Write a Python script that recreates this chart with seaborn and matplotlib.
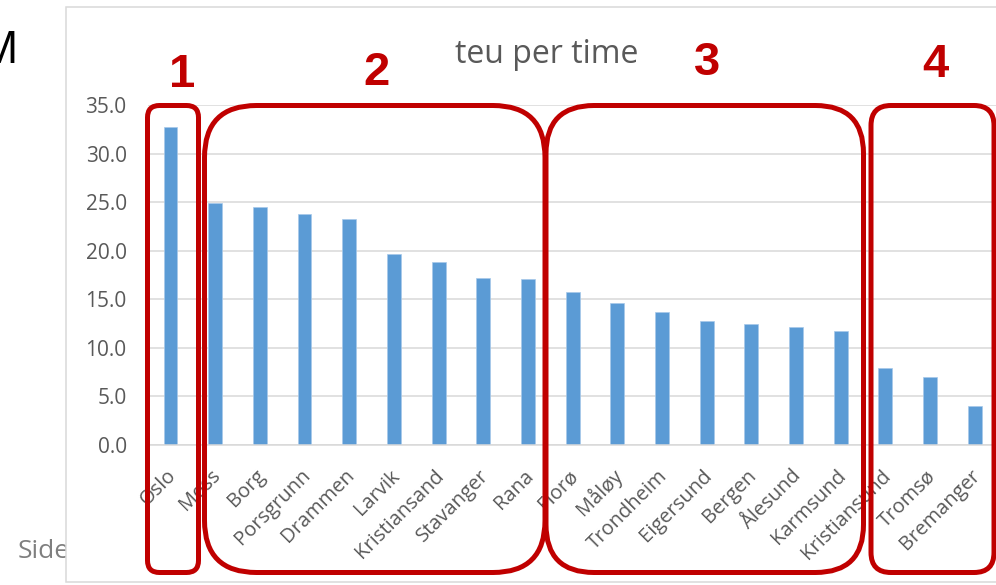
import matplotlib
matplotlib.use("Agg")
import matplotlib.pyplot as plt
import pandas as pd
import seaborn as sns
from matplotlib.patches import FancyBboxPatch, Rectangle
from matplotlib.transforms import Affine2D, ScaledTranslation

# ---- data -------------------------------------------------------------
ports = ["Oslo", "Moss", "Borg", "Porsgrunn", "Drammen", "Larvik",
         "Kristiansand", "Stavanger", "Rana", "Florø", "Måløy", "Trondheim",
         "Eigersund", "Bergen", "Ålesund", "Karmsund", "Kristiansund",
         "Tromsø", "Bremanger"]
teu_per_hour = [32.7, 24.9, 24.5, 23.8, 23.3, 19.6, 18.8, 17.2, 17.1,
                15.7, 14.6, 13.7, 12.7, 12.4, 12.1, 11.7, 7.9, 7.0, 4.0]
y_ticks = [0, 5, 10, 15, 20, 25, 30, 35]
chart_title = "teu per time"
group_numbers = ["1", "2", "3", "4"]

# ---- figure -----------------------------------------------------------
W, H, DPI = 996, 585, 100
sns.set_theme(style="white")
plt.rcParams["font.family"] = ["Open Sans", "DejaVu Sans"]

fig = plt.figure(figsize=(W / DPI, H / DPI), dpi=DPI)
fig.patch.set_facecolor("white")

# pixel coordinates, origin top-left, y downwards
pix = Affine2D().scale(1, -1).translate(0, H).scale(1 / DPI) + fig.dpi_scale_trans

# slide text partly hidden behind the chart
fig.text(17, 63, "M", transform=pix, ha="right", va="baseline",
         fontsize=33, color="black", family=["Liberation Sans"], zorder=0.5)
fig.text(18, 558.3, "Side", transform=pix, ha="left", va="baseline",
         fontsize=19, color="#7F7F7F", zorder=0.5)

# chart frame
fig.patches.append(Rectangle((66, 7), 940, 575, transform=pix,
                             facecolor="white", edgecolor="#D9D9D9",
                             linewidth=1.1, zorder=1))

ax = fig.add_axes([148.2 / W, (H - 444.7) / H, 848.8 / W, 339.7 / H])
ax.set_zorder(2)
ax.patch.set_alpha(0)

df = pd.DataFrame({"havn": ports, "teu": teu_per_hour})
sns.barplot(data=df, x="havn", y="teu", color="#5B9BD5", saturation=1,
            width=0.31, edgecolor="#A7C9EA", linewidth=0.5, ax=ax)

ax.set_xlim(-0.5, len(ports) - 0.5)
ax.set_ylim(0, 35)
ax.set_yticks(y_ticks)
ax.set_yticklabels([f"{v:.1f}" for v in y_ticks])
ax.set_xlabel("")
ax.set_ylabel("")
ax.yaxis.grid(True, color="#D9D9D9", linewidth=1.1)
ax.set_axisbelow(True)
for side in ("top", "left", "right"):
    ax.spines[side].set_visible(False)
ax.spines["bottom"].set_color("#D9D9D9")
ax.spines["bottom"].set_linewidth(1.1)

ax.tick_params(axis="y", length=0, pad=15.5, labelsize=15, labelcolor="#595959")
ax.tick_params(axis="x", length=0, pad=22.8, labelsize=14.5, labelcolor="#595959")
ax.set_xticks(range(len(ports)))
ax.set_xticklabels(ports, rotation=45, ha="right", va="baseline",
                   rotation_mode="anchor")
shift = ScaledTranslation(6 / DPI, 0, fig.dpi_scale_trans)
for lab in ax.get_xticklabels():
    lab.set_transform(lab.get_transform() + shift)

fig.text(546.7, 63.3, chart_title, transform=pix, ha="center", va="baseline",
         fontsize=23, color="#595959", zorder=3)

# red group outlines (left, top, right, bottom, corner radius) in pixels
red = "#C00000"
boxes = [(147.5, 105.5, 198.5, 572.5, 12),
         (204.5, 105.5, 545.0, 572.5, 52),
         (546.0, 105.5, 863.5, 572.5, 48),
         (871.0, 105.5, 994.0, 572.5, 20)]
for x0, y0, x1, y1, r in boxes:
    fig.patches.append(FancyBboxPatch(
        (x0, y0), x1 - x0, y1 - y0,
        boxstyle=f"round,pad=0,rounding_size={r}",
        transform=pix, facecolor="none", edgecolor=red,
        linewidth=3.6, zorder=5))

number_pos = [(182.5, 87), (376.3, 85), (707.5, 74.8), (935, 76.7)]
for num, (x, y) in zip(group_numbers, number_pos):
    fig.text(x, y, num, transform=pix, ha="center", va="baseline",
             fontsize=34, fontweight="bold", color=red,
             family=["Liberation Sans"], zorder=6)

fig.savefig("out.png", dpi=DPI)
